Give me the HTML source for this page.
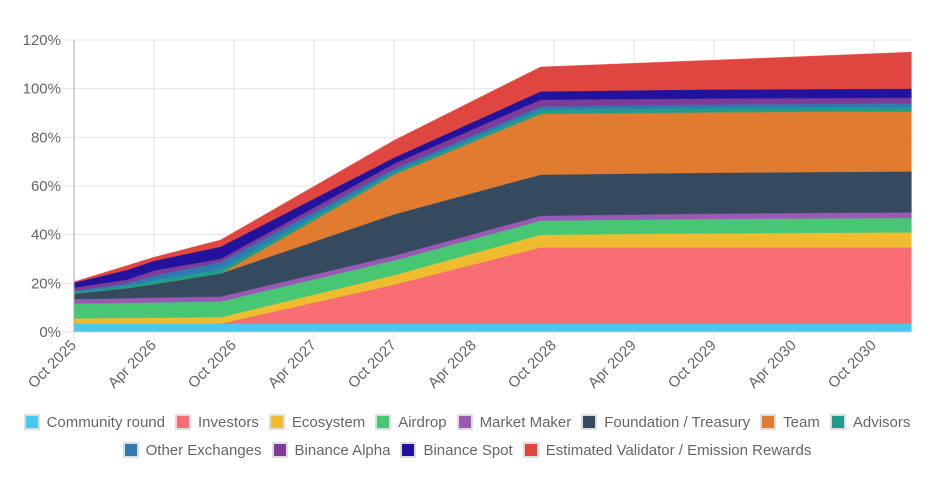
<!DOCTYPE html>
<html><head><meta charset="utf-8"><style>
body{margin:0;background:#fff;width:934px;height:478px;overflow:hidden;font-family:"Liberation Sans",sans-serif}
#legend{position:absolute;left:0;top:408px;width:934px;color:#666;font-size:15px}
.row{display:flex;justify-content:center;height:28px;align-items:center}
.item{display:flex;align-items:center;margin:0 5px}
.box{width:12px;height:12px;border:2px solid #ddd;margin-right:7px}
</style></head><body>
<svg id="chart" width="934" height="405" style="position:absolute;left:0;top:0"></svg>
<div id="legend"></div>
<script>
const months=[0,4,6,11,24,35,48,62.8];
const seriesNames=["Community round","Investors","Ecosystem","Airdrop","Market Maker","Foundation / Treasury","Team","Advisors","Other Exchanges","Binance Alpha","Binance Spot","Estimated Validator / Emission Rewards"];
const colors=["#45c9f0","#f76d73","#eebc2e","#47c774","#9b59b6","#364a5f","#e07b2f","#1f9c8a","#2e7bb3","#7d3c98","#22129e","#e04640"];
const community=[3.5,3.5,3.5,3.5,3.5,3.5,3.5,3.5];
const investors=[0,0,0,0,16,31.3,31.3,31.3];
const ecosystem=[2.1,2.3,2.4,2.6,3.9,5.2,5.8,6.2];
const airdrop=[6.1,6.2,6.3,6.5,6.0,5.8,5.9,5.9];
const marketMaker=[1.8,1.9,2,2,2,2,2.2,2.3];
const foundation=[2.3,4.2,5.5,9.5,17,16.9,16.8,16.8];
const team=[0,0,0,0,16.3,25,24.8,24.7];
const advisors=[0.8,1,1.5,1.8,1.2,1.7,1.8,1.8];
const otherExchanges=[0.3,1,2,2.8,1.1,1.3,1.4,1.4];
const binanceAlpha=[1.4,1.5,2.1,1.4,2.2,2.8,2.5,2.4];
const binanceSpot=[2,4,4,5,2.5,3.4,3.7,3.7];
const validator=[0.3,1.7,1.4,2.7,7,10,12,15];
const series=[community,investors,ecosystem,airdrop,marketMaker,foundation,team,advisors,otherExchanges,binanceAlpha,binanceSpot,validator];
const yTicks=[0,20,40,60,80,100,120];
const xTickLabels=["Oct 2025","Apr 2026","Oct 2026","Apr 2027","Oct 2027","Apr 2028","Oct 2028","Apr 2029","Oct 2029","Apr 2030","Oct 2030"];
const X0=74,X1=912,Y0=332,Y1=40;
const xs=m=>X0+m*(80/6);
const ys=v=>Y0-(v/120)*(Y0-Y1);
const NS="http://www.w3.org/2000/svg";
const svg=document.getElementById('chart');
function mk(t,a){const e=document.createElementNS(NS,t);for(const k in a)e.setAttribute(k,a[k]);svg.appendChild(e);return e;}
yTicks.forEach(v=>{
 const g=mk('line',{x1:62,x2:X1,y1:ys(v),y2:ys(v),stroke:'#e4e4e4','stroke-width':1});
 
 
 const t=mk('text',{x:61,y:ys(v)+5,'text-anchor':'end','font-size':15,fill:'#666'});
 t.textContent=v+'%';
 
 
});
xTickLabels.forEach((l,i)=>{
 const x=xs(i*6);
 const g=mk('line',{x1:x,x2:x,y1:Y1,y2:Y0+8,stroke:'#e4e4e4','stroke-width':1});
 
 
 const t=mk('text',{x:x+3,y:Y0+14,'text-anchor':'end','font-size':15,fill:'#666',transform:`rotate(-45 ${x+3} ${Y0+14})`});
 t.textContent=l;
 
 
});
let base=months.map(()=>0);
series.forEach((s,si)=>{
 const top=base.map((b,i)=>b+s[i]);
 let d='M'+months.map((m,i)=>xs(m)+','+ys(top[i])).join(' L');
 for(let i=months.length-1;i>=0;i--)d+=' L'+xs(months[i])+','+ys(base[i]);
 const p=mk('path',{d:d+'Z',fill:colors[si],stroke:colors[si],'stroke-width':0.8,'stroke-opacity':0.6});
 
 
 base=top;
});
const ax=mk('line',{x1:X0,x2:X0,y1:Y1,y2:Y0,stroke:'#aaa','stroke-width':1});


const ax2=mk('line',{x1:X0,x2:X1,y1:Y0,y2:Y0,stroke:'#ccc','stroke-width':1});


const leg=document.getElementById('legend');
[[0,8],[8,12]].forEach(([a,b])=>{
 const r=document.createElement('div');r.className='row';
 
 
 for(let i=a;i<b;i++){
  const it=document.createElement('div');it.className='item';
  
  
  it.innerHTML=`<span class="box" style="background:${colors[i]}"></span><span>${seriesNames[i]}</span>`;
  r.appendChild(it);
 }
 leg.appendChild(r);
});
</script>
</body></html>
